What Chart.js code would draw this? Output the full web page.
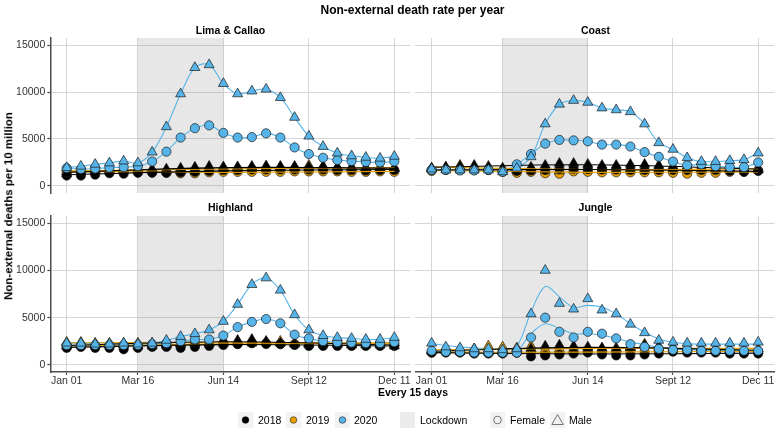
<!DOCTYPE html>
<html><head><meta charset="utf-8">
<script src="https://cdn.jsdelivr.net/npm/chart.js@4.4.1/dist/chart.umd.min.js"></script>
<style>
html,body{margin:0;padding:0;background:#fff;}
body{width:781px;height:437px;position:relative;overflow:hidden;font-family:"Liberation Sans",Arial,sans-serif;}
canvas{position:absolute;left:0;top:0;}
.t{position:absolute;white-space:nowrap;color:#000;line-height:1;}
.c{transform:translate(-50%,-50%);}
.b{font-weight:bold;}
.key{position:absolute;width:15px;height:16px;}
.lt{position:absolute;font-size:10.5px;line-height:1;transform:translateY(-50%);color:#000;white-space:nowrap;}
</style></head><body>
<canvas id="cTL" width="781" height="437"></canvas>
<canvas id="cTR" width="781" height="437"></canvas>
<canvas id="cBL" width="781" height="437"></canvas>
<canvas id="cBR" width="781" height="437"></canvas>

<div class="t c b" style="left:412.5px;top:10px;font-size:12px">Non-external death rate per year</div>
<div class="t c b" style="left:230.5px;top:30px;font-size:10.5px">Lima &amp; Callao</div>
<div class="t c b" style="left:595.5px;top:30px;font-size:10.5px">Coast</div>
<div class="t c b" style="left:230.5px;top:207px;font-size:10.5px">Highland</div>
<div class="t c b" style="left:595.5px;top:207px;font-size:10.5px">Jungle</div>
<div class="t b" style="left:9px;top:206px;font-size:11.5px;transform:translate(-50%,-50%) rotate(-90deg)">Non-external deaths per 10 million</div>
<div class="t c b" style="left:413px;top:392px;font-size:10.5px">Every 15 days</div>

<div class="key" style="left:238px;top:412px"><svg width="15" height="16"><rect width="15" height="16" fill="#f2f2f2"/><circle cx="7.5" cy="8" r="3.3" fill="#000" stroke="#000" stroke-width="0.6"/></svg></div>
<div class="lt" style="left:258px;top:420px">2018</div>
<div class="key" style="left:286px;top:412px"><svg width="15" height="16"><rect width="15" height="16" fill="#f2f2f2"/><circle cx="7.5" cy="8" r="3.3" fill="#E69F00" stroke="#222" stroke-width="0.6"/></svg></div>
<div class="lt" style="left:306px;top:420px">2019</div>
<div class="key" style="left:335px;top:412px"><svg width="15" height="16"><rect width="15" height="16" fill="#f2f2f2"/><circle cx="7.5" cy="8" r="3.3" fill="#56B4E9" stroke="#222" stroke-width="0.6"/></svg></div>
<div class="lt" style="left:354px;top:420px">2020</div>
<div class="key" style="left:400px;top:412px"><svg width="15" height="16"><rect width="15" height="16" fill="#ebebeb"/></svg></div>
<div class="lt" style="left:420px;top:420px">Lockdown</div>
<div class="key" style="left:490px;top:412px"><svg width="15" height="16"><rect width="15" height="16" fill="#f2f2f2"/><circle cx="7.5" cy="8" r="3.8" fill="none" stroke="#555" stroke-width="0.8"/></svg></div>
<div class="lt" style="left:510px;top:420px">Female</div>
<div class="key" style="left:550px;top:412px"><svg width="15" height="16"><rect width="15" height="16" fill="#f2f2f2"/><polygon points="7.5,2.5 13.2,12.5 1.8,12.5" fill="none" stroke="#555" stroke-width="0.8"/></svg></div>
<div class="lt" style="left:569px;top:420px">Male</div>

<script>
// ---------- categories / ticks ----------
const dates = ['Jan 01','Jan 16','Jan 31','Feb 15','Mar 01','Mar 16','Mar 31','Apr 15','Apr 30','May 15','May 30','Jun 14',
               'Jun 29','Jul 14','Jul 29','Aug 13','Aug 28','Sept 12','Sept 27','Oct 12','Oct 27','Nov 11','Nov 26','Dec 11'];
const tickDates = ['Jan 01','Mar 16','Jun 14','Sept 12','Dec 11'];
const yTicks = [0, 5000, 10000, 15000];
const lockdown = ['Mar 16','Jun 14'];
const trendDates = ['Jan 01','Jun 14','Dec 11'];

// ---------- Lima & Callao ----------
const lima2018F = [1100,1100,1200,1350,1300,1400,1400,1400,1450,1500,1600,1700,1700,1750,1750,1750,1750,1750,1750,1700,1700,1650,1700,1700];
const lima2018M = [1300,1500,1600,1700,1700,1700,1800,1800,1900,2000,2100,2050,2050,2100,2150,2100,2100,2050,2100,2000,2000,1950,1900,1850];
const lima2019F = [1500,1550,1550,1550,1500,1450,1450,1400,1350,1350,1450,1500,1500,1500,1500,1500,1550,1550,1550,1550,1500,1500,1550,1500];
const lima2019M = [1500,1700,1750,1800,1800,1750,1700,1650,1600,1600,1700,1800,1900,1900,1900,2000,2000,2200,2100,2000,2000,1900,2000,1900];
const lima2020F = [1900,1800,1850,1950,2000,2100,2600,3650,5150,6150,6450,5650,5150,5200,5600,5150,4100,3400,3000,2750,2650,2550,2500,2600];
const lima2020M = [1950,2100,2300,2450,2650,2450,3600,6300,9800,12600,12900,10900,9800,10100,10300,9400,7300,5300,4200,3500,3200,3050,2950,3150];
const lima2018FTrend = [1200,1600,1750];
const lima2018MTrend = [1450,1950,1900];
const lima2019FTrend = [1550,1450,1550];
const lima2019MTrend = [1600,1800,1950];

// ---------- Coast ----------
const coast2018F = [1700,1750,1700,1700,1700,1600,1600,1650,1700,1800,1850,1800,1750,1750,1700,1700,1700,1700,1700,1700,1700,1600,1500,1600];
const coast2018M = [1900,2000,2100,2200,2000,1900,1900,2000,2200,2400,2400,2300,2200,2200,2300,2300,2200,2100,2100,2000,2000,1900,1800,1700];
const coast2019F = [1600,1700,1700,1700,1700,1500,1400,1500,1350,1300,1550,1500,1450,1450,1450,1450,1450,1400,1300,1400,1400,1500,1500,1650];
const coast2019M = [1900,2000,2200,2000,2100,1800,1700,1700,1700,1600,1700,1700,1700,1700,1700,1700,1800,1800,1800,1800,1800,1800,1800,1800];
const coast2020F = [1700,1700,1650,1650,1700,1500,2300,3400,4500,4900,4850,4750,4400,4400,4200,3600,3100,2600,2200,2300,2100,2000,2000,2500];
const coast2020M = [1800,1700,1700,1700,1700,1500,1900,3100,6600,8700,9100,8900,8300,8100,7900,6600,4600,3900,3000,2600,2600,2700,2800,3500];
const coast2018FTrend = [1700,1750,1550];
const coast2018MTrend = [2000,2250,1800];
const coast2019FTrend = [1650,1450,1500];
const coast2019MTrend = [2000,1750,1800];

// ---------- Highland ----------
const high2018F = [1800,1900,1800,1800,1650,1800,1900,1900,1800,1900,2000,2100,2200,2300,2200,2200,2100,2000,2000,2000,2000,2000,2000,2000];
const high2018M = [2000,2100,2100,2100,2100,2000,2000,2100,2200,2300,2300,2600,2600,2700,2500,2300,2200,2200,2200,2200,2100,2100,2100,2000];
const high2019F = [2000,2000,2000,2000,2000,2000,2000,2100,2100,2200,2200,2300,2200,2300,2300,2200,2200,2200,2200,2200,2200,2200,2200,2200];
const high2019M = [2400,2400,2300,2300,2300,2300,2300,2200,2300,2400,2300,2300,2400,2300,2400,2500,2300,2200,2300,2300,2200,2300,2300,2300];
const high2020F = [2100,2100,2100,2100,2100,2100,2200,2300,2500,2700,2700,3100,4000,4550,4850,4400,3200,2800,2500,2400,2350,2300,2300,2400];
const high2020M = [2300,2300,2200,2200,2300,2200,2300,2600,3000,3300,3700,4600,6400,8500,9200,7900,5300,3700,3100,2900,2800,2700,2700,2900];
const high2018FTrend = [1850,2150,2000];
const high2018MTrend = [2050,2450,2100];
const high2019FTrend = [2000,2200,2250];
const high2019MTrend = [2350,2350,2300];

// ---------- Jungle ----------
const jun2018F = [1300,1300,1300,1200,1200,1200,1300,900,1000,1100,1200,1300,1100,1000,1000,1100,1200,1400,1300,1300,1300,1200,1200,1200];
const jun2018M = [1500,1500,1400,1400,1400,1400,1600,1700,2000,2100,2000,1900,1800,1700,1800,2100,2000,1900,1800,1700,1600,1600,1500,1500];
const jun2019F = [1300,1400,1400,1300,1300,1400,1300,1400,1100,1200,1400,1400,1300,1300,1400,1400,1500,1500,1600,1500,1400,1400,1400,1400];
const jun2019M = [1500,1600,1600,1700,2000,1900,1800,2000,1600,1700,1600,1700,1700,1800,1900,2200,1800,1700,1700,1800,1800,1700,1700,1700];
const jun2020F = [1500,1400,1400,1300,1300,1300,1300,2900,5000,3500,2900,3500,3300,2800,2200,1900,1700,1600,1600,1500,1500,1500,1500,1500];
const jun2020M = [2300,1900,1800,1700,1700,1600,1700,5400,10000,6500,5900,7000,5800,5400,4300,3400,2600,2400,2300,2300,2300,2300,2300,2400];
const jun2020FSmooth = [1500,1400,1350,1300,1300,1300,1500,3300,4350,3850,3300,3300,3150,2800,2400,2150,1850,1700,1600,1550,1550,1500,1500,1500];
const jun2020MSmooth = [2250,2050,1900,1800,1700,1650,2000,5600,8300,7200,6100,6300,6100,5400,4350,3450,2750,2400,2250,2200,2200,2200,2200,2200];
const jun2018FTrend = [1300,1150,1250];
const jun2018MTrend = [1450,1850,1550];
const jun2019FTrend = [1350,1350,1450];
const jun2019MTrend = [1600,1750,1750];

// ---------- styling ----------
const col = {y2018:'#000000', y2019:'#E69F00', y2020:'#56B4E9'};
const FONT = '"Liberation Sans", Arial, sans-serif';
const gridC = '#d6d6d6';
const axisC = '#4d4d4d';

const pts = arr => arr.map((v,i) => ({x: dates.indexOf(dates[i]), y: v}));
const trend = arr => arr.map((v,i) => ({x: dates.indexOf(trendDates[i]), y: v}));

function pointDs(arr, color, shape, order){
  return {data: pts(arr), showLine:false, order,
    pointStyle: shape, pointRadius: shape === 'triangle' ? 5.8 : 4.6,
    pointBackgroundColor: color, pointBorderColor: '#1a1a1a', pointBorderWidth: 0.7};
}
function lineDs(data, color, order, tension){
  return {data, showLine:true, order, borderColor: color, borderWidth: 1.1,
    pointRadius: 0, tension: tension, fill:false};
}

const shadePlugin = {
  id: 'shade',
  beforeDatasetsDraw(chart){
    const {ctx, chartArea: a, scales: {x}} = chart;
    const x1 = x.getPixelForValue(dates.indexOf(lockdown[0]));
    const x2 = x.getPixelForValue(dates.indexOf(lockdown[1]));
    ctx.save();
    ctx.fillStyle = 'rgba(128,128,128,0.19)';
    ctx.fillRect(x1, a.top, x2 - x1, a.bottom - a.top);
    ctx.restore();
  }
};

function makePanel(id, p, pos){
  const showX = pos.showX, showY = pos.showY;
  const xH = 20, yW = 50.3;
  const s20F = p.s20F ? pts(p.s20F) : pts(p.f20);
  const s20M = p.s20M ? pts(p.s20M) : pts(p.m20);
  const datasets = [
    pointDs(p.m20, col.y2020, 'triangle', 1),
    pointDs(p.f20, col.y2020, 'circle', 2),
    lineDs(trend(p.t18F), col.y2018, 3, 0.4),
    lineDs(trend(p.t18M), col.y2018, 3, 0.4),
    lineDs(trend(p.t19F), col.y2019, 3, 0.4),
    lineDs(trend(p.t19M), col.y2019, 3, 0.4),
    pointDs(p.m18, col.y2018, 'triangle', 4),
    pointDs(p.f18, col.y2018, 'circle', 5),
    pointDs(p.m19, col.y2019, 'triangle', 6),
    pointDs(p.f19, col.y2019, 'circle', 7),
    lineDs(s20F, col.y2020, 8, 0.35),
    lineDs(s20M, col.y2020, 8, 0.35)
  ];
  new Chart(document.getElementById(id), {
    type: 'scatter',
    data: {datasets},
    options: {
      responsive: false, animation: false, events: [],
      layout: {padding: {left: showY ? 0 : pos.left, right: 781 - pos.right, top: pos.top,
                         bottom: 437 - pos.bottom - (showX ? xH : 0)}},
      plugins: {legend: {display: false}, tooltip: {enabled: false}, title: {display: false}},
      scales: {
        x: {
          type: 'linear', min: -1.15, max: 24.15,
          afterBuildTicks: s => { s.ticks = tickDates.map(d => ({value: dates.indexOf(d)})); },
          afterFit: s => { s.height = showX ? xH : 0; },
          ticks: {display: showX, autoSkip: false, maxRotation: 0, padding: 0, color: '#333',
                  font: {family: FONT, size: 10.5}, callback: v => dates[v]},
          grid: {color: gridC, lineWidth: 1, drawTicks: showX, tickLength: 3, tickColor: axisC, tickWidth: 1.2},
          border: {display: showX, color: axisC, width: 1.5}
        },
        y: {
          type: 'linear', min: -750, max: 15750,
          afterBuildTicks: s => { s.ticks = yTicks.map(v => ({value: v})); },
          afterFit: s => { s.width = showY ? yW : 0; },
          ticks: {display: showY, padding: 2, color: '#333', font: {family: FONT, size: 10.5},
                  callback: v => String(v)},
          grid: {color: gridC, lineWidth: 1, drawTicks: showY, tickLength: 3, tickColor: axisC, tickWidth: 1.2},
          border: {display: showY, color: axisC, width: 1.5}
        }
      }
    },
    plugins: [shadePlugin]
  });
}

makePanel('cTL', {f18: lima2018F, m18: lima2018M, f19: lima2019F, m19: lima2019M, f20: lima2020F, m20: lima2020M,
  t18F: lima2018FTrend, t18M: lima2018MTrend, t19F: lima2019FTrend, t19M: lima2019MTrend},
  {left: 50.3, right: 410.7, top: 38, bottom: 193, showX: false, showY: true});
makePanel('cTR', {f18: coast2018F, m18: coast2018M, f19: coast2019F, m19: coast2019M, f20: coast2020F, m20: coast2020M,
  t18F: coast2018FTrend, t18M: coast2018MTrend, t19F: coast2019FTrend, t19M: coast2019MTrend},
  {left: 415.3, right: 775.7, top: 38, bottom: 193, showX: false, showY: false});
makePanel('cBL', {f18: high2018F, m18: high2018M, f19: high2019F, m19: high2019M, f20: high2020F, m20: high2020M,
  t18F: high2018FTrend, t18M: high2018MTrend, t19F: high2019FTrend, t19M: high2019MTrend},
  {left: 50.3, right: 410.7, top: 216, bottom: 372, showX: true, showY: true});
makePanel('cBR', {f18: jun2018F, m18: jun2018M, f19: jun2019F, m19: jun2019M, f20: jun2020F, m20: jun2020M,
  t18F: jun2018FTrend, t18M: jun2018MTrend, t19F: jun2019FTrend, t19M: jun2019MTrend,
  s20F: jun2020FSmooth, s20M: jun2020MSmooth},
  {left: 415.3, right: 775.7, top: 216, bottom: 372, showX: true, showY: false});
</script>
</body></html>
